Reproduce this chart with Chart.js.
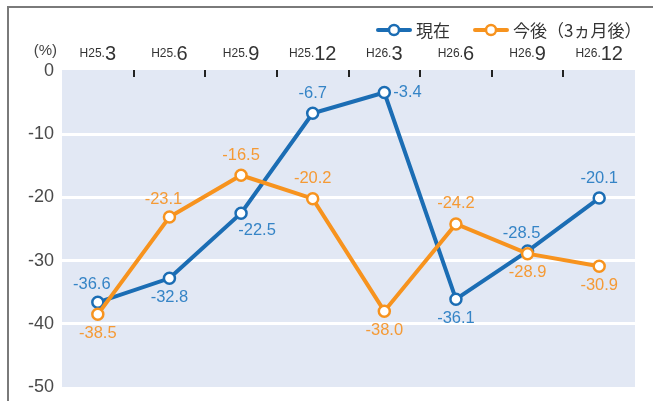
<!DOCTYPE html>
<html>
<head>
<meta charset="utf-8">
<script src="https://cdn.jsdelivr.net/npm/chart.js@4"></script>
<style>
  html, body { margin: 0; padding: 0; background: #fff; }
  #wrap { position: relative; width: 653px; height: 401px; }
  #frame { position: absolute; left: 7px; top: 6px; right: 0; bottom: 0;
           border-top: 2px solid #7a7a7a; border-left: 2px solid #7a7a7a; pointer-events: none; }
</style>
</head>
<body>
<div id="wrap">
  <canvas id="chart" width="653" height="401"></canvas>
  <div id="frame"></div>
</div>
<script>
const eras = ['H25.', 'H25.', 'H25.', 'H25.', 'H26.', 'H26.', 'H26.', 'H26.'];
const months = ['3', '6', '9', '12', '3', '6', '9', '12'];
const labels = eras.map((e, i) => e + months[i]);

const current = [-36.6, -32.8, -22.5, -6.7, -3.4, -36.1, -28.5, -20.1];
const outlook = [-38.5, -23.1, -16.5, -20.2, -38.0, -24.2, -28.9, -30.9];

// where each value label sits relative to its point
const currentLabelPos = ['aboveLeft', 'below', 'belowRight', 'above', 'right', 'below', 'aboveLeft', 'above'];
const outlookLabelPos = ['below', 'aboveLeft', 'above', 'above', 'below', 'above', 'below', 'below'];

const BLUE = '#1b6db4';
const ORANGE = '#f7931e';
const BLUE_TXT = '#3584c6';
const ORANGE_TXT = '#f59a35';
const FONT = '"Liberation Sans", Arial, sans-serif';
const JFONT = '"Noto Sans CJK JP", sans-serif';

const ctx = document.getElementById('chart').getContext('2d');

const backdrop = {
  id: 'backdrop',
  beforeDraw(chart) {
    const { ctx, chartArea: a } = chart;
    ctx.save();
    ctx.fillStyle = '#e2e8f4';
    ctx.fillRect(a.left, a.top - 1, a.right - a.left, a.bottom - a.top + 1);
    ctx.restore();
  },
  afterDraw(chart) {
    const { ctx, chartArea: a } = chart;
    const x = chart.scales.x;
    ctx.save();
    // tick marks between categories, hanging from the top edge
    ctx.fillStyle = '#222';
    for (let i = 0; i < labels.length - 1; i++) {
      const px = (x.getPixelForValue(i) + x.getPixelForValue(i + 1)) / 2;
      ctx.fillRect(Math.round(px) - 1, a.top - 1, 2, 7);
    }
    // category labels above the plot: small era + large month
    ctx.fillStyle = '#333';
    ctx.textBaseline = 'alphabetic';
    labels.forEach((l, i) => {
      const cx = x.getPixelForValue(i);
      ctx.font = '12px ' + FONT;
      const w1 = ctx.measureText(eras[i]).width;
      ctx.font = '20px ' + FONT;
      const w2 = ctx.measureText(months[i]).width;
      let sx = cx - (w1 + w2) / 2;
      ctx.font = '12px ' + FONT;
      ctx.textAlign = 'left';
      ctx.fillText(eras[i], sx, 57);
      ctx.font = '20px ' + FONT;
      ctx.fillText(months[i], sx + w1, 60);
    });
    // unit
    ctx.font = '15px ' + FONT;
    ctx.textAlign = 'right';
    ctx.fillStyle = '#444';
    ctx.fillText('(%)', 57, 55);

    // legend
    const items = [
      { text: '現在', color: BLUE, x: 378 },
      { text: '今後（3ヵ月後）', color: ORANGE, x: 475 }
    ];
    items.forEach(it => {
      ctx.strokeStyle = it.color;
      ctx.lineWidth = 4;
      ctx.lineCap = 'round';
      ctx.beginPath();
      ctx.moveTo(it.x, 30);
      ctx.lineTo(it.x + 32, 30);
      ctx.stroke();
      ctx.beginPath();
      ctx.arc(it.x + 16, 30, 5, 0, Math.PI * 2);
      ctx.fillStyle = '#fff';
      ctx.fill();
      ctx.lineWidth = 2.5;
      ctx.stroke();
      ctx.fillStyle = '#333';
      ctx.font = '17px ' + JFONT;
      ctx.textAlign = 'left';
      ctx.textBaseline = 'middle';
      ctx.fillText(it.text, it.x + 38, 31);
    });

    // value labels
    ctx.font = '16.5px ' + FONT;
    ctx.textBaseline = 'middle';
    const sets = [
      { idx: 0, pos: currentLabelPos, color: BLUE_TXT },
      { idx: 1, pos: outlookLabelPos, color: ORANGE_TXT }
    ];
    sets.forEach(s => {
      const meta = chart.getDatasetMeta(s.idx);
      const vals = chart.data.datasets[s.idx].data;
      ctx.fillStyle = s.color;
      meta.data.forEach((pt, i) => {
        const t = vals[i].toFixed(1);
        let dx = 0, dy = 0, align = 'center';
        switch (s.pos[i]) {
          case 'above': dy = -20; break;
          case 'below': dy = 19; break;
          case 'aboveLeft': dx = -6; dy = -18; break;
          case 'belowRight': dx = 16; dy = 17; break;
          case 'right': dx = 9; align = 'left'; break;
        }
        ctx.textAlign = align;
        ctx.fillText(t, pt.x + dx, pt.y + dy);
      });
    });
    ctx.restore();
  }
};

const chart = new Chart(ctx, {
  type: 'line',
  data: {
    labels: labels,
    datasets: [
      {
        label: '現在',
        data: current,
        borderColor: BLUE,
        borderWidth: 4,
        pointRadius: 5.5,
        pointBorderWidth: 2.5,
        pointBackgroundColor: '#fff',
        pointBorderColor: BLUE,
        tension: 0,
        order: 2
      },
      {
        label: '今後（3ヵ月後）',
        data: outlook,
        borderColor: ORANGE,
        borderWidth: 4,
        pointRadius: 5.5,
        pointBorderWidth: 2.5,
        pointBackgroundColor: '#fff',
        pointBorderColor: ORANGE,
        tension: 0,
        order: 1
      }
    ]
  },
  options: {
    responsive: false,
    animation: false,
    layout: { padding: { left: 7, top: 71, right: 18, bottom: 14 } },
    scales: {
      x: {
        display: false,
        offset: true
      },
      y: {
        min: -50,
        max: 0,
        afterFit(scale) {
          scale.width = 55;
          scale.paddingTop = 0;
          scale.paddingBottom = 0;
        },
        ticks: {
          stepSize: 10,
          color: '#4a4a4a',
          padding: 8,
          font: { size: 18, family: FONT }
        },
        grid: {
          color: c => (c.tick.value === 0 || c.tick.value === -50) ? 'rgba(0,0,0,0)' : '#fff',
          lineWidth: 3,
          drawTicks: false
        },
        border: { display: false }
      }
    },
    plugins: {
      legend: { display: false },
      tooltip: { enabled: false }
    }
  },
  plugins: [backdrop]
});
</script>
</body>
</html>
